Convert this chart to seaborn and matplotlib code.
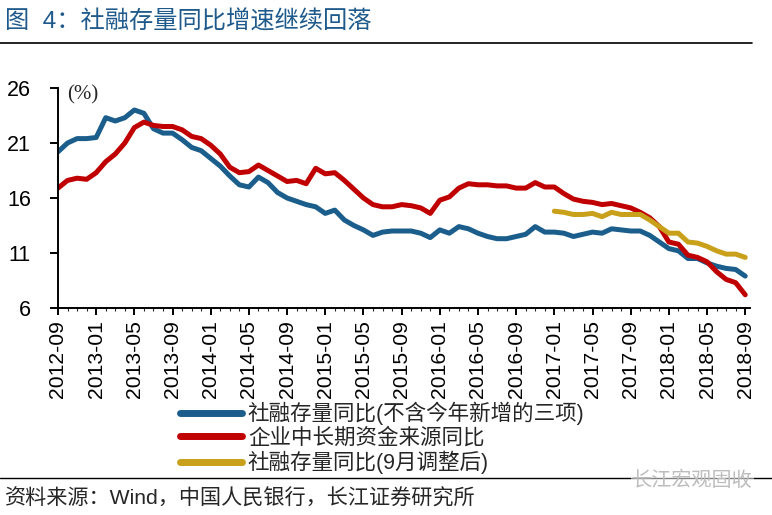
import pandas as pd
import matplotlib.pyplot as plt
from matplotlib.lines import Line2D
from matplotlib.ticker import MultipleLocator
import seaborn as sns

sns.set_style('white')
plt.rcParams['font.family'] = ['Liberation Sans', 'Noto Sans CJK SC', 'DejaVu Sans']
plt.rcParams['axes.unicode_minus'] = False

# 月份 2012-09 ~ 2018-09
months = pd.date_range('2012-09-01', periods=73, freq='MS').strftime('%Y-%m').tolist()

name_blue = '社融存量同比(不含今年新增的三项)'
name_red = '企业中长期资金来源同比'
name_gold = '社融存量同比(9月调整后)'

blue_vals = [20.2, 21.0, 21.4, 21.4, 21.5, 23.3, 23.0, 23.3, 24.0, 23.7,
             22.3, 21.9, 21.9, 21.3, 20.6, 20.3, 19.6, 18.9, 18.0, 17.2,
             17.0, 17.9, 17.4, 16.5, 16.0, 15.7, 15.4, 15.2, 14.6, 14.9,
             14.0, 13.5, 13.1, 12.6, 12.9, 13.0, 13.0, 13.0, 12.8, 12.4,
             13.1, 12.8, 13.4, 13.2, 12.8, 12.5, 12.3, 12.3, 12.5, 12.7,
             13.4, 12.9, 12.9, 12.8, 12.5, 12.7, 12.9, 12.8, 13.2, 13.1,
             13.0, 13.0, 12.6, 12.0, 11.4, 11.2, 10.5, 10.5, 10.1, 9.8,
             9.6, 9.5, 8.9]
red_vals = [16.9, 17.6, 17.8, 17.7, 18.3, 19.3, 20.0, 21.0, 22.4, 22.9,
            22.6, 22.5, 22.5, 22.2, 21.6, 21.4, 20.8, 20.0, 18.8, 18.3,
            18.4, 19.0, 18.5, 18.0, 17.5, 17.6, 17.3, 18.7, 18.2, 18.3,
            17.6, 16.8, 16.0, 15.4, 15.2, 15.2, 15.4, 15.3, 15.1, 14.6,
            15.8, 16.1, 16.9, 17.3, 17.2, 17.2, 17.1, 17.1, 16.9, 16.9,
            17.4, 17.0, 17.0, 16.4, 15.9, 15.7, 15.6, 15.4, 15.5, 15.3,
            15.1, 14.7, 14.2, 13.4, 12.0, 11.8, 10.8, 10.6, 10.2, 9.3,
            8.6, 8.3, 7.2]
# 从2017-01开始
gold_vals = [14.8, 14.7, 14.5, 14.5, 14.6, 14.3, 14.7, 14.5, 14.5, 14.5,
             14.0, 13.4, 12.8, 12.8, 12.0, 11.9, 11.6, 11.2, 10.9, 10.9,
             10.6]

y_ticks = [6, 11, 16, 21, 26]

n = len(months)
gold_start = n - len(gold_vals)
df = pd.concat([
    pd.DataFrame({'idx': range(n), 'value': blue_vals, 'series': name_blue}),
    pd.DataFrame({'idx': range(n), 'value': red_vals, 'series': name_red}),
    pd.DataFrame({'idx': range(gold_start, n), 'value': gold_vals, 'series': name_gold}),
])
palette = {name_blue: '#1B5E8C', name_red: '#C00000', name_gold: '#C9A01A'}

fig = plt.figure(figsize=(7.72, 5.15), dpi=100)
ax = fig.add_axes([58 / 772, 1 - 308 / 515, 692 / 772, 220 / 515])

sns.lineplot(data=df, x='idx', y='value', hue='series', palette=palette,
             hue_order=[name_blue, name_red, name_gold], linewidth=3.6, ax=ax)
for ln in ax.lines:
    ln.set_solid_joinstyle('round')

ax.set_xlim(0, 72.5)
ax.set_ylim(6, 26)
ax.set_yticks(y_ticks)
ax.set_xticks(range(0, n, 4))
ax.set_xticklabels(months[::4], rotation=90)
ax.xaxis.set_minor_locator(MultipleLocator(1))
ax.set_xlabel('')
ax.set_ylabel('')
sns.despine(ax=ax)
for s in ['left', 'bottom']:
    ax.spines[s].set_color('black')
    ax.spines[s].set_linewidth(1.4)
ax.tick_params(axis='y', direction='out', length=6, width=1.4, pad=13.5, labelsize=15.5, colors='black', left=True)
ax.tick_params(axis='x', which='major', direction='out', length=5, width=1.4, pad=4, labelsize=15.2, colors='black', bottom=True)
ax.tick_params(axis='x', which='minor', direction='out', length=2, width=0.8, bottom=True)

ax.text(0.013, 1.012, '(%)', transform=ax.transAxes, fontsize=15,
        family=['Liberation Serif'], va='top', ha='left')

handles, labels = ax.get_legend_handles_labels()
ax.get_legend().remove()
leg = fig.legend(handles, labels, loc='upper left', bbox_to_anchor=(180 / 772, 1 - 402 / 515),
                 frameon=False, handlelength=2.9, handletextpad=0.25,
                 labelspacing=0.1, borderpad=0, borderaxespad=0,
                 prop={'family': ['Liberation Sans', 'Noto Sans CJK SC'], 'size': 15.5})
for h in leg.get_lines():
    h.set_linewidth(5)
    h.set_solid_capstyle('round')

fig.text(5 / 772, 1 - 22 / 515, '图  4：社融存量同比增速继续回落', fontsize=17.5, color='#1F5A8C',
         va='center', ha='left', family=['Liberation Sans', 'Noto Sans CJK SC'])
fig.add_artist(Line2D([0, 752 / 772], [1 - 43 / 515] * 2, color='black', lw=1.2))
fig.add_artist(Line2D([0, 1], [1 - 478 / 515] * 2, color='black', lw=1.0))
fig.text(5 / 772, 1 - 499 / 515, '资料来源：Wind，中国人民银行，长江证券研究所', fontsize=15.2,
         va='center', ha='left', family=['Liberation Sans', 'Noto Sans CJK SC'])
fig.text(753 / 772, 1 - 480 / 515, '长江宏观固收', fontsize=14.5, color='#BDBDBD',
         va='center', ha='right', family=['Noto Sans CJK SC'],
         bbox=dict(facecolor='white', edgecolor='none', alpha=0.5, pad=1))

fig.savefig('out.png', dpi=100)
